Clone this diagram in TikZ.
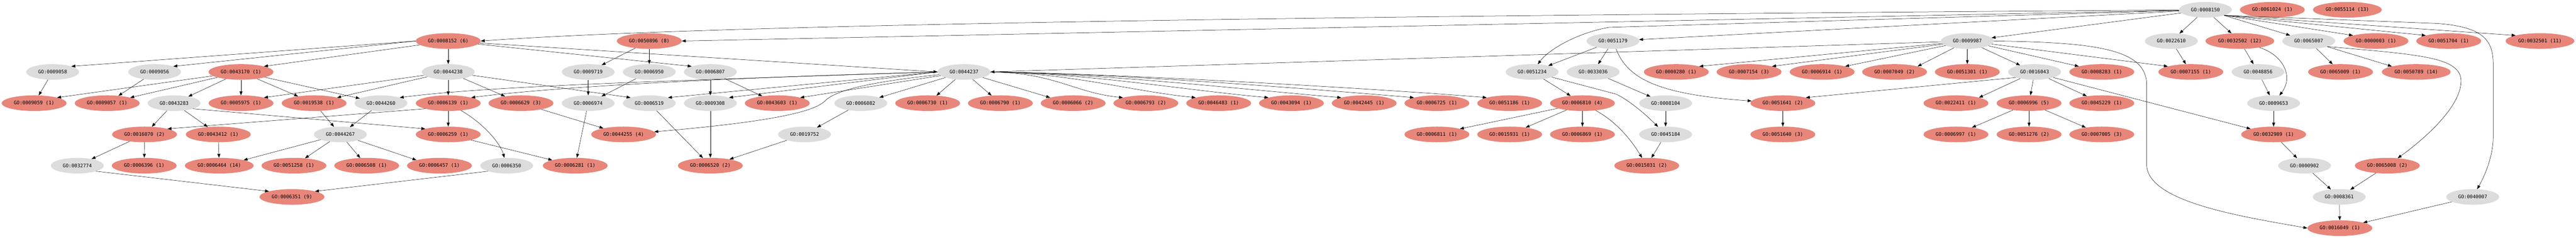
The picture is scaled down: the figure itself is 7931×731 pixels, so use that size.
\documentclass[tikz,border=0pt]{standalone}
\usepackage{fontspec}
\newfontfamily\monof{DejaVu Sans Mono}
\usetikzlibrary{shapes.geometric,arrows.meta}
\definecolor{gored}{RGB}{232,134,122}
\definecolor{gogray}{RGB}{220,220,220}
\begin{document}
\begin{tikzpicture}[x=1pt,y=-1pt,
  base/.style={ellipse, minimum height=48pt, inner sep=0pt, font=\fontsize{14.8pt}{16pt}\selectfont\monof},
  gnode/.style={base, fill=gogray, minimum width=163pt},
  rnode/.style={base, fill=gored, minimum width=200pt},
  rwide/.style={base, fill=gored, minimum width=212pt},
  edg/.style={draw=black, line width=0.8pt, -{Triangle[length=12pt,width=9pt]}}]
\useasboundingbox[fill=white] (0,0) rectangle (7931,731);
% row 0
\node[gnode] (n0008150) at (6790,30) {GO:0008150};
\node[rnode] (n0061024) at (6996,30) {GO:0061024 (1)};
\node[rwide] (n0055114) at (7227,30) {GO:0055114 (13)};
% row 1
\node[rnode] (n0008152) at (1380,126) {GO:0008152 (6)};
\node[rnode] (n0050896) at (1999,126) {GO:0050896 (8)};
\node[gnode] (n0051179) at (4966,126) {GO:0051179};
\node[gnode] (n0009987) at (6057,126) {GO:0009987};
\node[gnode] (n0022610) at (6685,126) {GO:0022610};
\node[rwide] (n0032502) at (6896,126) {GO:0032502 (12)};
\node[gnode] (n0065007) at (7108,126) {GO:0065007};
\node[rnode] (n0000003) at (7315,126) {GO:0000003 (1)};
\node[rnode] (n0051704) at (7539,126) {GO:0051704 (1)};
\node[rwide] (n0032501) at (7820,126) {GO:0032501 (11)};
% row 2
\node[gnode] (n0009058) at (162,221) {GO:0009058};
\node[gnode] (n0009056) at (476,221) {GO:0009056};
\node[rnode] (n0043170) at (742,221) {GO:0043170 (1)};
\node[gnode] (n0044238) at (1380,221) {GO:0044238};
\node[gnode] (n0009719) at (1811,221) {GO:0009719};
\node[gnode] (n0006950) at (1999,221) {GO:0006950};
\node[gnode] (n0006807) at (2187,221) {GO:0006807};
\node[gnode] (n0044237) at (2968,221) {GO:0044237};
\node[gnode] (n0051234) at (4717,221) {GO:0051234};
\node[gnode] (n0033036) at (4905,221) {GO:0033036};
\node[rnode] (n0000280) at (5161,221) {GO:0000280 (1)};
\node[rnode] (n0007154) at (5385,221) {GO:0007154 (3)};
\node[rnode] (n0006914) at (5610,221) {GO:0006914 (1)};
\node[rnode] (n0007049) at (5833,221) {GO:0007049 (2)};
\node[rnode] (n0051301) at (6057,221) {GO:0051301 (1)};
\node[gnode] (n0016043) at (6264,221) {GO:0016043};
\node[rnode] (n0008283) at (6471,221) {GO:0008283 (1)};
\node[rnode] (n0007155) at (6745,221) {GO:0007155 (1)};
\node[gnode] (n0048856) at (6952,221) {GO:0048856};
\node[rnode] (n0065009) at (7206,221) {GO:0065009 (1)};
\node[rwide] (n0050789) at (7439,221) {GO:0050789 (14)};
% row 3
\node[rnode] (n0009059) at (105,317) {GO:0009059 (1)};
\node[rnode] (n0009057) at (330,317) {GO:0009057 (1)};
\node[gnode] (n0043283) at (536,317) {GO:0043283};
\node[rnode] (n0005975) at (742,317) {GO:0005975 (1)};
\node[rnode] (n0019538) at (967,317) {GO:0019538 (1)};
\node[gnode] (n0044260) at (1173,317) {GO:0044260};
\node[rnode] (n0006139) at (1380,317) {GO:0006139 (1)};
\node[rnode] (n0006629) at (1604,317) {GO:0006629 (3)};
\node[gnode] (n0006974) at (1811,317) {GO:0006974};
\node[gnode] (n0006519) at (1999,317) {GO:0006519};
\node[gnode] (n0009308) at (2187,317) {GO:0009308};
\node[rnode] (n0043603) at (2393,317) {GO:0043603 (1)};
\node[gnode] (n0006082) at (2650,317) {GO:0006082};
\node[rnode] (n0006730) at (2856,317) {GO:0006730 (1)};
\node[rnode] (n0006790) at (3080,317) {GO:0006790 (1)};
\node[rnode] (n0006066) at (3304,317) {GO:0006066 (2)};
\node[rnode] (n0006793) at (3528,317) {GO:0006793 (2)};
\node[rnode] (n0046483) at (3752,317) {GO:0046483 (1)};
\node[rnode] (n0043094) at (3976,317) {GO:0043094 (1)};
\node[rnode] (n0042445) at (4200,317) {GO:0042445 (1)};
\node[rnode] (n0006725) at (4424,317) {GO:0006725 (1)};
\node[rnode] (n0051186) at (4648,317) {GO:0051186 (1)};
\node[rnode] (n0006810) at (4872,317) {GO:0006810 (4)};
\node[gnode] (n0008104) at (5128,317) {GO:0008104};
\node[rnode] (n0051641) at (5489,317) {GO:0051641 (2)};
\node[rnode] (n0022411) at (6022,317) {GO:0022411 (1)};
\node[rnode] (n0006996) at (6247,317) {GO:0006996 (5)};
\node[rnode] (n0045229) at (6471,317) {GO:0045229 (1)};
\node[gnode] (n0009653) at (7000,317) {GO:0009653};
% row 4
\node[rnode] (n0016070) at (445,413) {GO:0016070 (2)};
\node[rnode] (n0043412) at (672,413) {GO:0043412 (1)};
\node[gnode] (n0044267) at (1048,413) {GO:0044267};
\node[rnode] (n0006259) at (1380,413) {GO:0006259 (1)};
\node[rnode] (n0044255) at (1920,413) {GO:0044255 (4)};
\node[gnode] (n0019752) at (2477,413) {GO:0019752};
\node[rnode] (n0006811) at (4424,413) {GO:0006811 (1)};
\node[rnode] (n0015931) at (4648,413) {GO:0015931 (1)};
\node[rnode] (n0006869) at (4872,413) {GO:0006869 (1)};
\node[gnode] (n0045184) at (5128,413) {GO:0045184};
\node[rnode] (n0051640) at (5489,413) {GO:0051640 (3)};
\node[rnode] (n0006997) at (6022,413) {GO:0006997 (1)};
\node[rnode] (n0051276) at (6247,413) {GO:0051276 (2)};
\node[rnode] (n0007005) at (6471,413) {GO:0007005 (3)};
\node[rnode] (n0032989) at (7000,413) {GO:0032989 (1)};
% row 5
\node[gnode] (n0032774) at (238,509) {GO:0032774};
\node[rnode] (n0006396) at (444,509) {GO:0006396 (1)};
\node[rwide] (n0006464) at (675,509) {GO:0006464 (14)};
\node[rnode] (n0051258) at (905,509) {GO:0051258 (1)};
\node[rnode] (n0006508) at (1129,509) {GO:0006508 (1)};
\node[rnode] (n0006457) at (1353,509) {GO:0006457 (1)};
\node[gnode] (n0006350) at (1560,509) {GO:0006350};
\node[rnode] (n0006281) at (1771,509) {GO:0006281 (1)};
\node[rnode] (n0006520) at (2187,509) {GO:0006520 (2)};
\node[rnode] (n0015031) at (5070,509) {GO:0015031 (2)};
\node[gnode] (n0000902) at (7095,509) {GO:0000902};
\node[rnode] (n0065008) at (7350,509) {GO:0065008 (2)};
% row 6
\node[rnode] (n0006351) at (899,605) {GO:0006351 (9)};
\node[gnode] (n0008361) at (7202,605) {GO:0008361};
\node[gnode] (n0040007) at (7613,605) {GO:0040007};
% row 7
\node[rnode] (n0016049) at (7204,701) {GO:0016049 (1)};

% ---- edges from GO:0008150
\draw[edg] (n0008150) .. controls (4000,50) and (2200,75) .. (n0008152.east);
\draw[edg] (n0008150) -- (n0050896.east);
\draw[edg] (n0008150) -- (n0051179);
\draw[edg] (n0008150) -- (n0009987);
\draw[edg] (n0008150) -- (4954,84) .. controls (4860,100) and (4770,150) .. (n0051234);
\draw[edg] (n0008150) -- (n0022610);
\draw[edg] (n0008150) -- (n0032502);
\draw[edg] (n0008150) -- (n0065007);
\draw[edg] (n0008150.south east) -- (n0000003.north west);
\draw[edg] (n0008150.south east) -- (n0051704.north west);
\draw[edg] (n0008150.south east) -- (n0032501.north west);
\draw[edg] (n0008150.south east) -- (7503,72) .. controls (7640,82) and (7676,120) .. (7676,196) -- (7676,420) .. controls (7676,480) and (7650,540) .. (n0040007);
% ---- GO:0008152
\draw[edg] (n0008152.west) -- (n0009058.north east);
\draw[edg] (n0008152.west) -- (n0009056.north east);
\draw[edg] (n0008152) -- (n0043170.north east);
\draw[edg] (n0008152) -- (n0044238);
\draw[edg] (n0008152) -- (n0044237.west);
\draw[edg] (n0008152) -- (n0006807.north west);
% ---- GO:0050896
\draw[edg] (n0050896) -- (n0009719);
\draw[edg] (n0050896) -- (n0006950);
% ---- GO:0051179
\draw[edg] (n0051179) -- (n0051234);
\draw[edg] (n0051179) -- (n0033036);
\draw[edg] (n0051179) .. controls (5010,240) and (5100,290) .. (n0051641);
% ---- GO:0009987
\draw[edg] (n0009987) -- (n0044237.east);
\draw[edg] (n0009987) -- (n0000280.north east);
\draw[edg] (n0009987) -- (n0007154.north east);
\draw[edg] (n0009987) -- (n0006914.north east);
\draw[edg] (n0009987) -- (n0007049.north east);
\draw[edg] (n0009987) -- (n0051301);
\draw[edg] (n0009987) -- (n0016043);
\draw[edg] (n0009987) -- (n0008283.north west);
\draw[edg] (n0009987) -- (n0007155.north west);
\draw[edg] (n0009987.east) .. controls (6450,130) and (6609,150) .. (6609,260) -- (6609,505) .. controls (6609,620) and (6900,665) .. (n0016049.west);
% ---- GO:0022610, GO:0032502, GO:0065007
\draw[edg] (n0022610) -- (n0007155);
\draw[edg] (n0032502) -- (n0048856);
\draw[edg] (n0032502) .. controls (7030,170) and (7062,235) .. (n0009653);
\draw[edg] (n0065007) -- (n0065009);
\draw[edg] (n0065007) -- (n0050789.north west);
\draw[edg] (n0065007.south east) .. controls (7450,168) and (7578,175) .. (7577,250) .. controls (7576,330) and (7460,430) .. (n0065008);
% ---- row 2 sources
\draw[edg] (n0009058) -- (n0009059);
\draw[edg] (n0009056) -- (n0009057);
\draw[edg] (n0043170) -- (n0009059.north east);
\draw[edg] (n0043170) -- (n0009057.north east);
\draw[edg] (n0043170) -- (n0043283);
\draw[edg] (n0043170) -- (n0005975);
\draw[edg] (n0043170) -- (n0019538);
\draw[edg] (n0043170) -- (n0044260);
\draw[edg] (n0044238) -- (n0005975.north east);
\draw[edg] (n0044238) -- (n0019538.north east);
\draw[edg] (n0044238) -- (n0006139);
\draw[edg] (n0044238) -- (n0006629);
\draw[edg] (n0044238) -- (n0006519.north west);
\draw[edg] (n0009719) -- (n0006974);
\draw[edg] (n0006950) -- (n0006974);
\draw[edg] (n0006807) -- (n0009308);
\draw[edg] (n0006807) -- (n0043603);
% ---- GO:0044237
\draw[edg] (n0044237.west) .. controls (2000,250) and (1500,265) .. (n0044260.north east);
\draw[edg] (n0044237.west) .. controls (2000,245) and (1600,280) .. (n0006139.north east);
\draw[edg] (n0044237.west) -- (n0006519.north east);
\draw[edg] (n0044237.west) -- (n0009308.north east);
\draw[edg] (n0044237) -- (n0043603.north east);
\draw[edg] (n0044237) -- (n0006082);
\draw[edg] (n0044237) .. controls (2660,254) and (2570,280) .. (2540,310) .. controls (2510,340) and (2400,372) .. (n0044255);
\draw[edg] (n0044237) -- (n0006730);
\draw[edg] (n0044237) -- (n0006790);
\draw[edg] (n0044237) -- (n0006066.north west);
\draw[edg] (n0044237.east) .. controls +(200,3) and +(-150,-15) .. (n0006793.north west);
\draw[edg] (n0044237.east) .. controls +(250,4) and +(-200,-20) .. (n0046483.north west);
\draw[edg] (n0044237.east) .. controls +(300,4) and +(-250,-22) .. (n0043094.north west);
\draw[edg] (n0044237.east) .. controls +(350,5) and +(-300,-25) .. (n0042445.north west);
\draw[edg] (n0044237.east) .. controls +(400,5) and +(-300,-25) .. (n0006725.north west);
\draw[edg] (n0044237.east) .. controls +(400,5) and +(-300,-25) .. (n0051186.north west);
% ---- localization
\draw[edg] (n0051234) -- (n0006810);
\draw[edg] (n0051234) -- (4975,289) .. controls (5010,305) and (5060,345) .. (n0045184);
\draw[edg] (n0033036) -- (n0008104);
\draw[edg] (n0016043.south west) -- (n0051641.north east);
\draw[edg] (n0016043) -- (n0022411.north east);
\draw[edg] (n0016043) -- (n0006996);
\draw[edg] (n0016043) -- (n0045229);
\draw[edg] (n0016043.south east) -- (n0032989.north west);
\draw[edg] (n0048856) -- (n0009653);
% ---- row 3 sources
\draw[edg] (n0043283) -- (n0016070);
\draw[edg] (n0043283) -- (n0043412);
\draw[edg] (n0043283.south east) -- (n0006259.north west);
\draw[edg] (n0019538) -- (n0044267);
\draw[edg] (n0044260) -- (n0044267);
\draw[edg] (n0006139.south west) -- (n0016070.north east);
\draw[edg] (n0006139) -- (n0006259);
\draw[edg] (n0006139) .. controls (1490,380) and (1540,440) .. (n0006350);
\draw[edg] (n0006629) -- (n0044255);
\draw[edg] (n0006974) -- (n0006281);
\draw[edg] (n0006519) -- (n0006520);
\draw[edg] (n0009308) -- (n0006520);
\draw[edg] (n0006082) -- (n0019752);
\draw[edg] (n0006810) -- (n0006811.north east);
\draw[edg] (n0006810) -- (n0015931);
\draw[edg] (n0006810) -- (n0006869);
\draw[edg] (n0006810) .. controls (4960,365) and (5010,410) .. (n0015031);
\draw[edg] (n0008104) -- (n0045184);
\draw[edg] (n0051641) -- (n0051640);
\draw[edg] (n0006996) -- (n0006997);
\draw[edg] (n0006996) -- (n0051276);
\draw[edg] (n0006996) -- (n0007005);
\draw[edg] (n0009653) -- (n0032989);
% ---- row 4 sources
\draw[edg] (n0016070) -- (n0032774);
\draw[edg] (n0016070) -- (n0006396);
\draw[edg] (n0043412) -- (n0006464);
\draw[edg] (n0044267) -- (n0006464.north east);
\draw[edg] (n0044267) -- (n0051258);
\draw[edg] (n0044267) -- (n0006508);
\draw[edg] (n0044267) -- (n0006457.north west);
\draw[edg] (n0006259) -- (n0006281.north west);
\draw[edg] (n0019752) -- (n0006520);
\draw[edg] (n0045184) -- (n0015031);
\draw[edg] (n0032989) -- (n0000902);
% ---- row 5 and below
\draw[edg] (n0032774.south east) -- (n0006351.north west);
\draw[edg] (n0006350.south west) -- (n0006351.north east);
\draw[edg] (n0000902) -- (n0008361);
\draw[edg] (n0065008) -- (n0008361);
\draw[edg] (n0008361) -- (n0016049);
\draw[edg] (n0040007) -- (n0016049);
\end{tikzpicture}
\end{document}
